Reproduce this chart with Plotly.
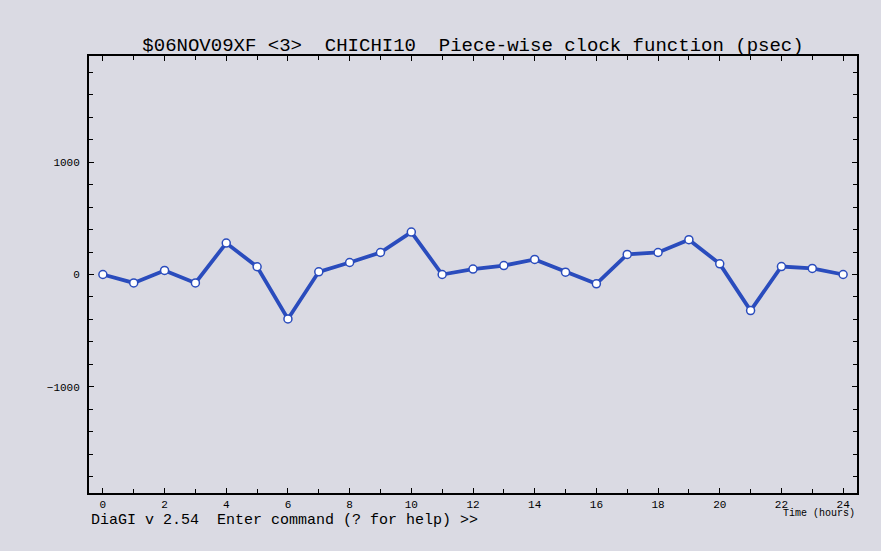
import plotly.graph_objects as go

hours = list(range(0, 25))
clock_psec = [0, -75, 36, -75, 280, 69, -396, 24, 107, 196, 378, 0, 48,
              80, 134, 21, -83, 179, 196, 310, 95, -321, 71, 54, 0]
x_tick_vals = list(range(0, 25, 2))
x_tick_text = [str(v) for v in x_tick_vals]
y_tick_vals = [-1000, 0, 1000]
y_tick_text = ["\u22121000", "0", "1000"]

title_text = "$06NOV09XF <3>  CHICHI10  Piece-wise clock function (psec)"
prompt_text = "DiaGI v 2.54  Enter command (? for help) >>"
xlabel_text = "Time (hours)"

BG = "#dadae3"
LINE = "#2a4cbd"
FONT = "Liberation Mono"

fig = go.Figure()
fig.add_trace(go.Scatter(
    x=hours, y=clock_psec, mode="lines+markers",
    line=dict(color=LINE, width=3.8),
    marker=dict(symbol="circle", size=8, color="white",
                line=dict(color=LINE, width=1.5)),
    hoverinfo="x+y", showlegend=False,
))

fig.update_layout(
    width=881, height=551,
    margin=dict(l=89, r=24, t=56, b=58),
    paper_bgcolor=BG, plot_bgcolor=BG,
    font=dict(family=FONT, color="black"),
    title=dict(text=title_text,
               x=473 / 881, xanchor="center",
               y=1 - 44 / 551, yanchor="middle",
               font=dict(family=FONT, size=19, color="black")),
    xaxis=dict(range=[-0.45, 24.45], showgrid=False, zeroline=False,
               showline=True, linecolor="black", linewidth=2, mirror="ticks",
               ticks="inside", ticklen=5, tickwidth=1, tickcolor="black",
               tickvals=x_tick_vals, ticktext=x_tick_text,
               tickfont=dict(family=FONT, size=11, color="black"),
               minor=dict(dtick=1, tick0=0, ticks="inside", ticklen=4,
                          tickwidth=1, tickcolor="black", showgrid=False)),
    yaxis=dict(range=[-1946, 1946], showgrid=False, zeroline=False,
               showline=True, linecolor="black", linewidth=2, mirror="ticks",
               ticks="inside", ticklen=5, tickwidth=1, tickcolor="black",
               tickvals=y_tick_vals, ticktext=y_tick_text, ticklabelstandoff=5,
               tickfont=dict(family=FONT, size=11, color="black"),
               minor=dict(dtick=200, tick0=0, ticks="inside", ticklen=4,
                          tickwidth=1, tickcolor="black", showgrid=False)),
)

fig.add_annotation(text=prompt_text, xref="paper", yref="paper",
                   x=0, y=-(520 - 493) / (493 - 56), xanchor="left", yanchor="middle",
                   showarrow=False, font=dict(family=FONT, size=15, color="black"))
fig.add_annotation(text=xlabel_text, xref="paper", yref="paper",
                   x=1, y=-(513 - 493) / (493 - 56), xanchor="right", yanchor="middle",
                   showarrow=False, font=dict(family=FONT, size=10, color="black"))

fig.write_html("out.html", config={"displayModeBar": False},
               post_script="document.body.style.margin='0';document.body.style.background='" + BG + "';")
